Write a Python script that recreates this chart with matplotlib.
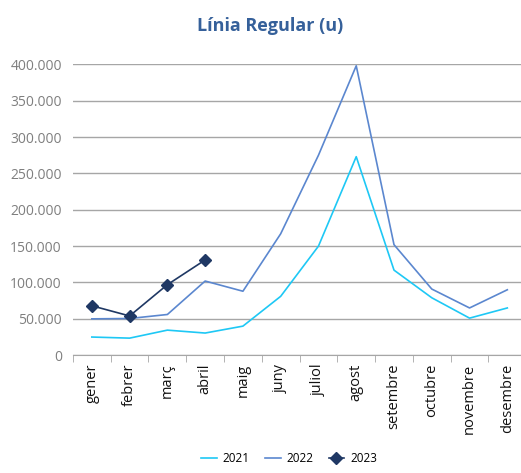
import matplotlib.pyplot as plt
from matplotlib.ticker import FuncFormatter, FixedLocator

mesos = ['gener', 'febrer', 'març', 'abril', 'maig', 'juny', 'juliol', 'agost',
         'setembre', 'octubre', 'novembre', 'desembre']
v2021 = [25000, 23500, 34500, 30500, 40000, 81000, 150000, 273000, 117000, 79000, 51000, 65000]
v2022 = [50000, 50500, 56000, 102000, 88000, 167000, 275000, 398000, 152000, 91000, 65000, 90000]
v2023 = [68000, 54000, 97000, 131000]

plt.rcParams['font.family'] = ['Open Sans', 'DejaVu Sans']

fig = plt.figure(figsize=(5.21, 4.73), dpi=100)
ax = fig.add_axes([0.14, 0.249, 0.87, 0.615])

x = list(range(len(mesos)))
ax.plot(x, v2021, color='#1EC8F5', lw=1.2, label='2021')
ax.plot(x, v2022, color='#5B87CF', lw=1.2, label='2022')
ax.plot(x[:len(v2023)], v2023, color='#1F3864', lw=1.2, marker='D', ms=6, label='2023')

ax.set_xlim(-0.5, 11.5)
ax.set_ylim(0, 400000)
ax.set_yticks(range(0, 400001, 50000))
ax.yaxis.set_major_formatter(FuncFormatter(lambda v, p: f'{int(v):,}'.replace(',', '.')))
ax.grid(axis='y', color='#A6A6A6', lw=1)
ax.set_axisbelow(True)
for s in ['top', 'right', 'left']:
    ax.spines[s].set_visible(False)
ax.spines['bottom'].set_color('#A6A6A6')
ax.tick_params(axis='y', length=0, labelsize=10, labelcolor='#7F7F7F', pad=8)

ax.set_xticks(x)
ax.set_xticklabels(mesos, rotation=90, fontsize=10.5, color='#111111')
ax.tick_params(axis='x', length=0, pad=6)
ax.xaxis.set_minor_locator(FixedLocator([i + 0.5 for i in range(-1, 12)]))
ax.tick_params(axis='x', which='minor', length=5, color='#A6A6A6', direction='out')

fig.text(0.518, 0.945, 'Línia Regular (u)', fontsize=13, fontweight='bold',
         color='#35609A', ha='center', va='center')

fig.legend(loc='lower center', bbox_to_anchor=(0.555, -0.005), ncol=3, frameon=False,
           fontsize=8.5, handlelength=1.3, handletextpad=0.5, columnspacing=1.3)

fig.savefig('out.png', dpi=100)
